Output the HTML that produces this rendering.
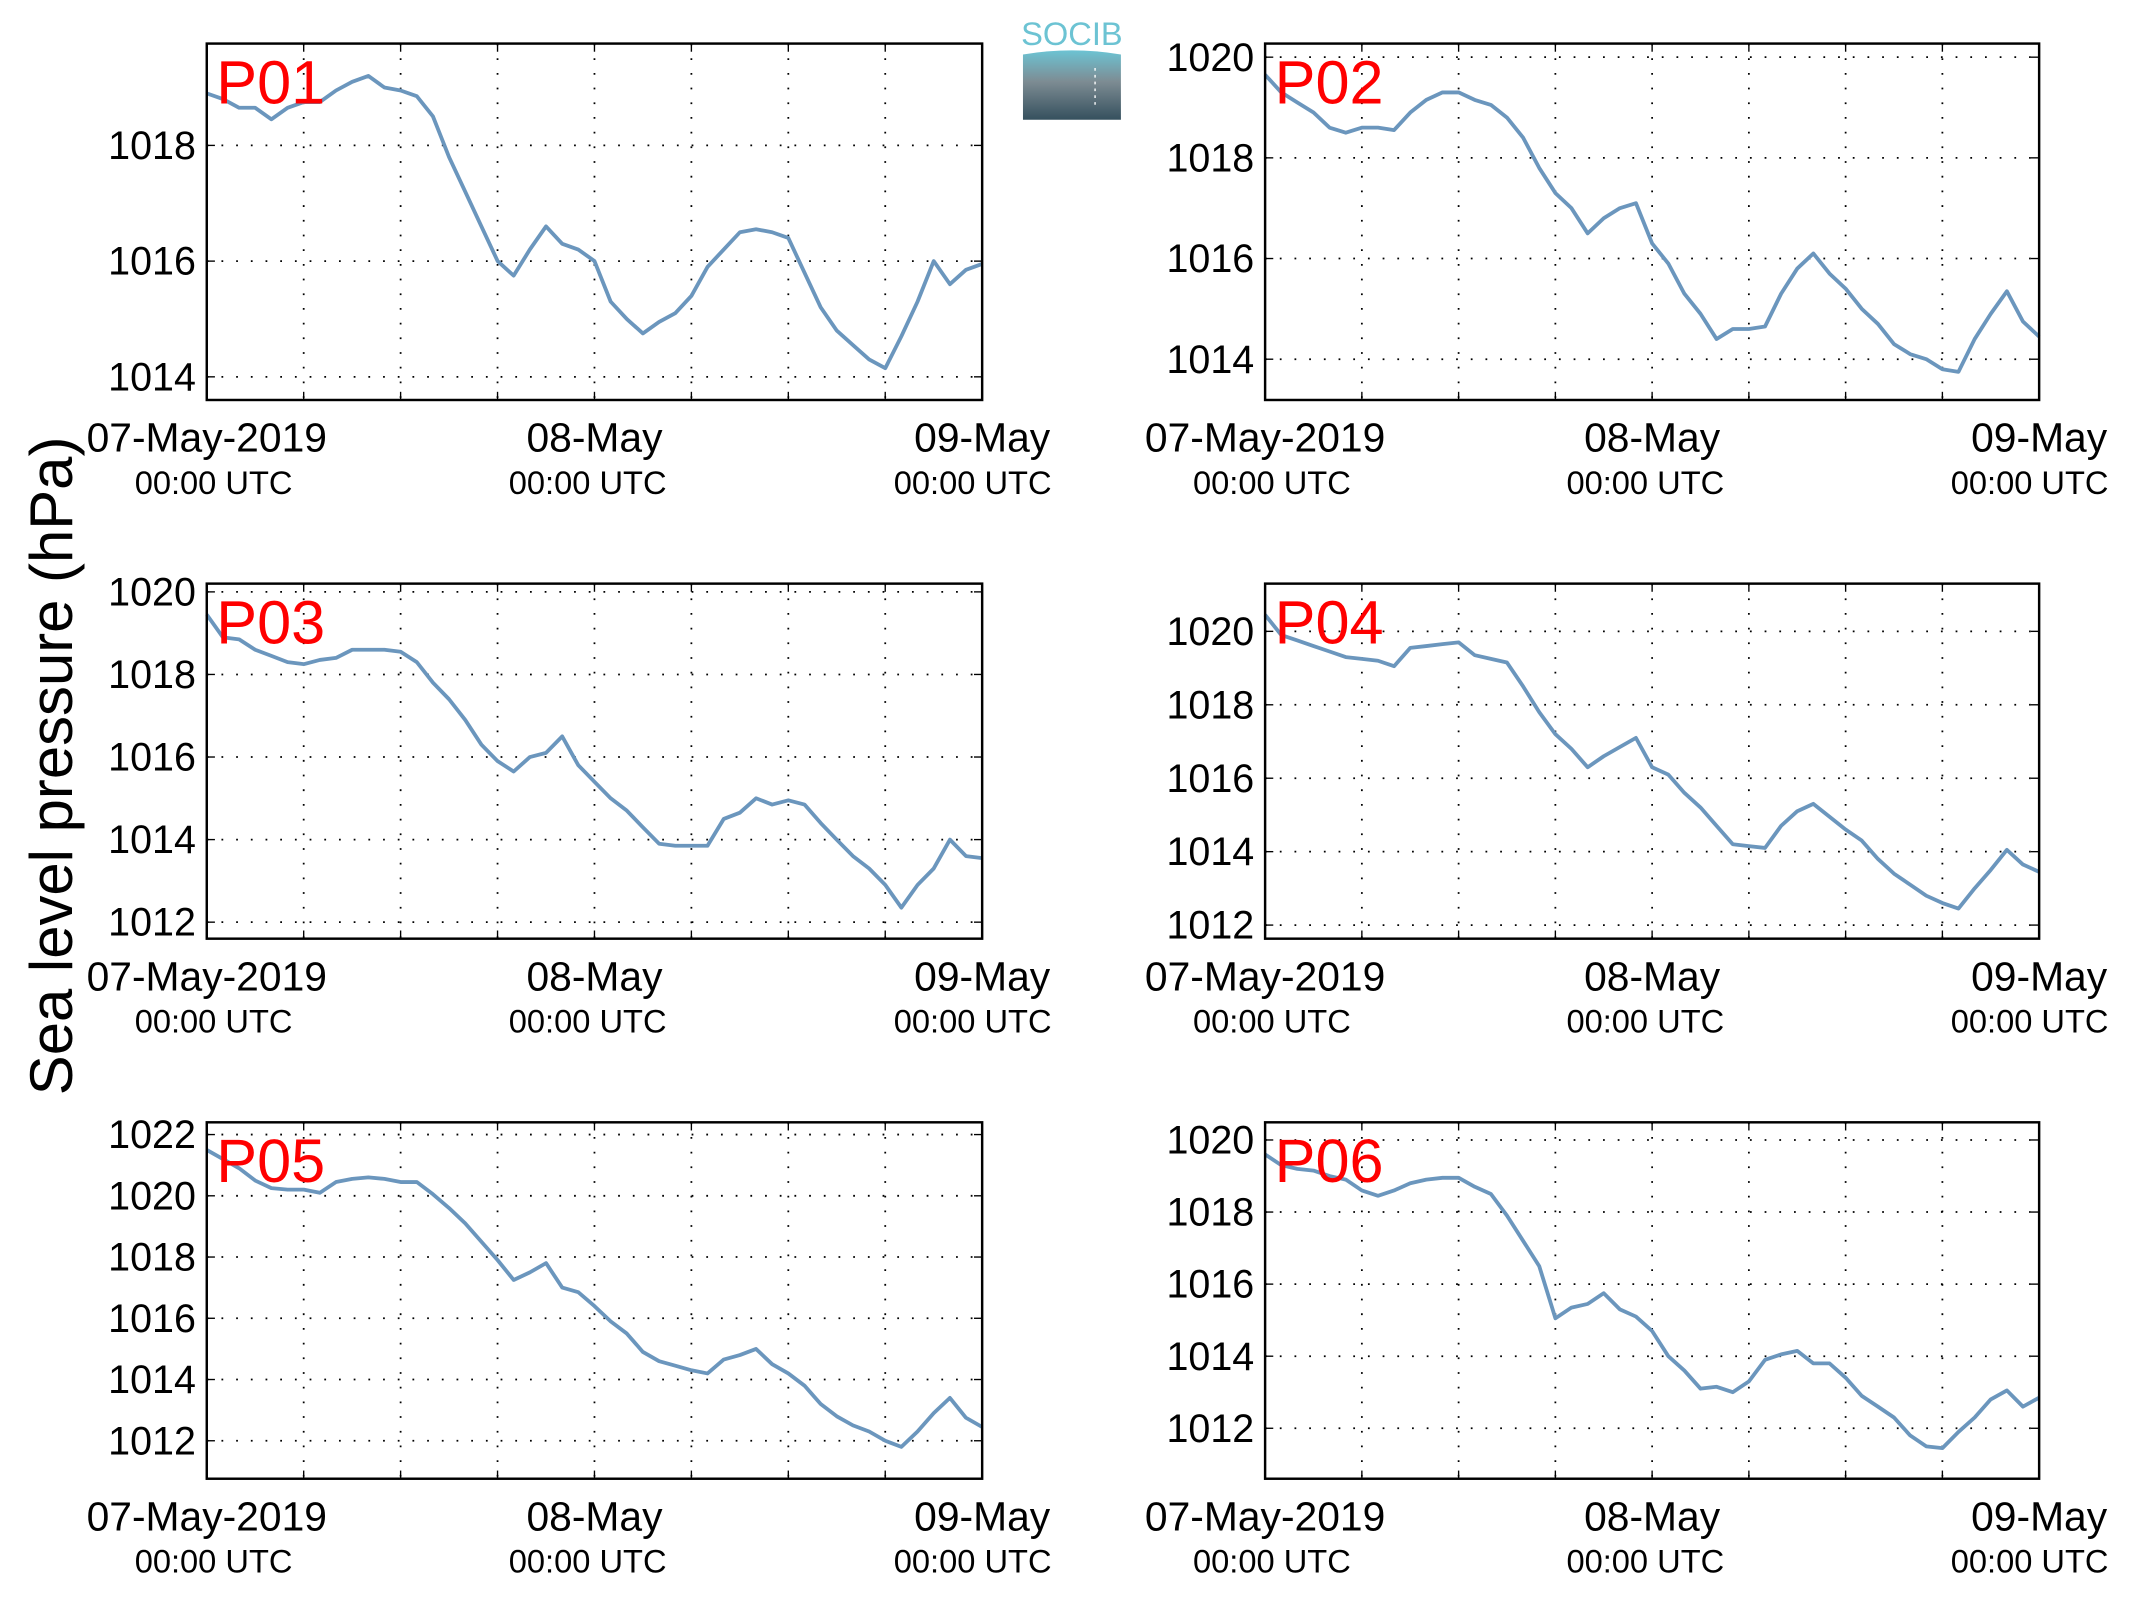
<!DOCTYPE html>
<html><head><meta charset="utf-8"><style>
html,body{margin:0;padding:0;background:#fff;}
svg{display:block;}
text{font-family:"Liberation Sans",sans-serif;}
</style></head><body>
<svg id="fig" xmlns="http://www.w3.org/2000/svg" width="2133" height="1608" viewBox="0 0 1568 1182">
<rect x="0" y="0" width="1568" height="1182" fill="#fff"/>
<text transform="translate(53,563) rotate(-90)" text-anchor="middle" font-size="44">Sea level pressure (hPa)</text>
<g>
<defs><linearGradient id="lg" x1="0" y1="0" x2="0" y2="1"><stop offset="0" stop-color="#6cc3d3"/><stop offset="0.45" stop-color="#7d8c93"/><stop offset="1" stop-color="#35505e"/></linearGradient></defs>
<text x="788" y="33" text-anchor="middle" font-size="24" fill="#6cc3d3">SOCIB</text>
<path d="M752,40 Q788,34 824,40 L824,88 L752,88 Z" fill="url(#lg)"/>
<line x1="805" y1="50" x2="805" y2="80" stroke="#fff" stroke-width="1" stroke-dasharray="2,3"/>
</g>
</svg>
<script>
const hours = [0,1,2,3,4,5,6,7,8,9,10,11,12,13,14,15,16,17,18,19,20,21,22,23,24,25,26,27,28,29,30,31,32,33,34,35,36,37,38,39,40,41,42,43,44,45,46,47,48];
const p01 = [1018.9,1018.8,1018.65,1018.65,1018.45,1018.65,1018.75,1018.75,1018.95,1019.1,1019.2,1019.0,1018.95,1018.85,1018.5,1017.8,1017.2,1016.6,1016.0,1015.75,1016.2,1016.6,1016.3,1016.2,1016.0,1015.3,1015.0,1014.75,1014.95,1015.1,1015.4,1015.9,1016.2,1016.5,1016.55,1016.5,1016.4,1015.8,1015.2,1014.8,1014.55,1014.3,1014.15,1014.7,1015.3,1016.0,1015.6,1015.85,1015.95];
const p02 = [1019.65,1019.3,1019.1,1018.9,1018.6,1018.5,1018.6,1018.6,1018.55,1018.9,1019.15,1019.3,1019.3,1019.15,1019.05,1018.8,1018.4,1017.8,1017.3,1017.0,1016.5,1016.8,1017.0,1017.1,1016.3,1015.9,1015.3,1014.9,1014.4,1014.6,1014.6,1014.65,1015.3,1015.8,1016.1,1015.7,1015.4,1015.0,1014.7,1014.3,1014.1,1014.0,1013.8,1013.75,1014.4,1014.9,1015.35,1014.75,1014.45];
const p03 = [1019.45,1018.9,1018.85,1018.6,1018.45,1018.3,1018.25,1018.35,1018.4,1018.6,1018.6,1018.6,1018.55,1018.3,1017.8,1017.4,1016.9,1016.3,1015.9,1015.65,1016.0,1016.1,1016.5,1015.8,1015.4,1015.0,1014.7,1014.3,1013.9,1013.85,1013.85,1013.85,1014.5,1014.65,1015.0,1014.85,1014.95,1014.85,1014.4,1014.0,1013.6,1013.3,1012.9,1012.35,1012.9,1013.3,1014.0,1013.6,1013.55];
const p04 = [1020.45,1019.9,1019.75,1019.6,1019.45,1019.3,1019.25,1019.2,1019.05,1019.55,1019.6,1019.65,1019.7,1019.35,1019.25,1019.15,1018.5,1017.8,1017.2,1016.8,1016.3,1016.6,1016.85,1017.1,1016.3,1016.1,1015.6,1015.2,1014.7,1014.2,1014.15,1014.1,1014.7,1015.1,1015.3,1014.95,1014.6,1014.3,1013.8,1013.4,1013.1,1012.8,1012.6,1012.45,1013.0,1013.5,1014.05,1013.65,1013.45];
const p05 = [1021.5,1021.2,1020.9,1020.5,1020.25,1020.2,1020.2,1020.1,1020.45,1020.55,1020.6,1020.55,1020.45,1020.45,1020.05,1019.6,1019.1,1018.5,1017.9,1017.25,1017.5,1017.8,1017.0,1016.85,1016.4,1015.9,1015.5,1014.9,1014.6,1014.45,1014.3,1014.2,1014.65,1014.8,1015.0,1014.5,1014.2,1013.8,1013.2,1012.8,1012.5,1012.3,1012.0,1011.8,1012.3,1012.9,1013.4,1012.75,1012.45];
const p06 = [1019.6,1019.3,1019.2,1019.15,1019.0,1018.9,1018.6,1018.45,1018.6,1018.8,1018.9,1018.95,1018.95,1018.7,1018.5,1017.9,1017.2,1016.5,1015.05,1015.35,1015.45,1015.75,1015.3,1015.1,1014.7,1014.0,1013.6,1013.1,1013.15,1013.0,1013.3,1013.9,1014.05,1014.15,1013.8,1013.8,1013.4,1012.9,1012.6,1012.3,1011.8,1011.5,1011.45,1011.9,1012.3,1012.8,1013.05,1012.6,1012.85];
const yticks01 = [1014,1016,1018];
const yticks02 = [1014,1016,1018,1020];
const yticks03 = [1012,1014,1016,1018,1020];
const yticks04 = [1012,1014,1016,1018,1020];
const yticks05 = [1012,1014,1016,1018,1020,1022];
const yticks06 = [1012,1014,1016,1018,1020];
const names = ["P01","P02","P03","P04","P05","P06"];
const xLabels = ["07-May-2019","08-May","09-May"];
const xLabelHours = [0,24,48];
const timeShift = [5,-5,-7];

const NS="http://www.w3.org/2000/svg";
const svg=document.getElementById('fig');
function mk(tag,attrs,parent){const e=document.createElementNS(NS,tag);for(const k in attrs)e.setAttribute(k,attrs[k]);(parent||svg).appendChild(e);return e;}

const panels=[
 {x0:152,x1:722,y0:32,y1:294,ymin:1013.6,ymax:1019.76,data:p01,ticks:yticks01},
 {x0:930,x1:1499,y0:32,y1:294,ymin:1013.19,ymax:1020.27,data:p02,ticks:yticks02},
 {x0:152,x1:722,y0:429,y1:690,ymin:1011.6,ymax:1020.2,data:p03,ticks:yticks03},
 {x0:930,x1:1499,y0:429,y1:690,ymin:1011.63,ymax:1021.3,data:p04,ticks:yticks04},
 {x0:152,x1:722,y0:825,y1:1087,ymin:1010.76,ymax:1022.4,data:p05,ticks:yticks05},
 {x0:930,x1:1499,y0:825,y1:1087,ymin:1010.6,ymax:1020.49,data:p06,ticks:yticks06}
];
panels.forEach((p,i)=>{
 const g=mk('g',{});
 
 
 const xs=h=>p.x0+(p.x1-p.x0)*h/48;
 const ys=v=>p.y1-(p.y1-p.y0)*(v-p.ymin)/(p.ymax-p.ymin);
 for(let h=6;h<48;h+=6){
  const l=mk('line',{x1:xs(h),x2:xs(h),y1:p.y0,y2:p.y1,stroke:'#000','stroke-width':1.3,'stroke-dasharray':'1.3,9.5'},g);
  
  
  mk('line',{x1:xs(h),x2:xs(h),y1:p.y1,y2:p.y1-6,stroke:'#000','stroke-width':1},g);
  mk('line',{x1:xs(h),x2:xs(h),y1:p.y0,y2:p.y0+6,stroke:'#000','stroke-width':1},g);
 }
 p.ticks.forEach(v=>{
  const y=ys(v);
  const l=mk('line',{x1:p.x0,x2:p.x1,y1:y,y2:y,stroke:'#000','stroke-width':1.3,'stroke-dasharray':'1.3,9.5'},g);
  
  
  mk('line',{x1:p.x0,x2:p.x0+6,y1:y,y2:y,stroke:'#000','stroke-width':1},g);
  mk('line',{x1:p.x1,x2:p.x1-6,y1:y,y2:y,stroke:'#000','stroke-width':1},g);
  const t=mk('text',{x:p.x0-8,y:y+10,'text-anchor':'end','font-size':29},g);
  
  
  t.textContent=v;
 });
 xLabelHours.forEach((h,j)=>{
  const x=xs(h);
  const t1=mk('text',{x:x,y:p.y1+38,'text-anchor':'middle','font-size':30},g);
  
  
  t1.textContent=xLabels[j];
  const t2=mk('text',{x:x+timeShift[j],y:p.y1+69,'text-anchor':'middle','font-size':24},g);
  
  
  t2.textContent='00:00 UTC';
 });
 const d=p.data.map((v,k)=>(k?'L':'M')+xs(hours[k]).toFixed(1)+','+ys(v).toFixed(1)).join(' ');
 const path=mk('path',{d:d,fill:'none',stroke:'#6b96bd','stroke-width':2.8,'stroke-linejoin':'round'},g);
 
 
 const fr=mk('rect',{x:p.x0,y:p.y0,width:p.x1-p.x0,height:p.y1-p.y0,fill:'none',stroke:'#000','stroke-width':1.8},g);
 
 
 const lab=mk('text',{x:p.x0+7,y:p.y0+44,'font-size':45,fill:'#ff0000'},g);
 
 
 lab.textContent=names[i];
});
</script>
</body></html>
